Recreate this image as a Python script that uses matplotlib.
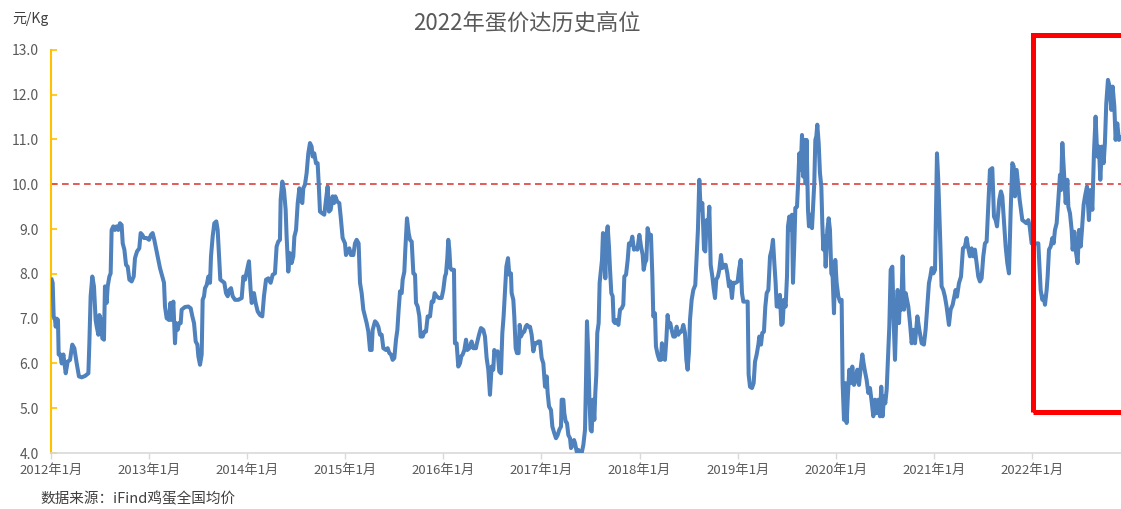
import matplotlib
matplotlib.use("Agg")
import matplotlib.pyplot as plt
from matplotlib.patches import Rectangle
import numpy as np

plt.rcParams['font.family'] = ['Noto Sans CJK SC', 'DejaVu Sans']

# weekly egg price, x = fractional year
t = [
    2012.007, 2012.017, 2012.027, 2012.041, 2012.048, 2012.058, 2012.071, 2012.078, 2012.095, 2012.109,
    2012.126, 2012.150, 2012.170, 2012.194, 2012.217, 2012.238, 2012.262, 2012.285, 2012.313, 2012.347,
    2012.381, 2012.391, 2012.404, 2012.421, 2012.438, 2012.455, 2012.466, 2012.483, 2012.493, 2012.510,
    2012.523, 2012.540, 2012.550, 2012.567, 2012.578, 2012.595, 2012.608, 2012.618, 2012.635, 2012.652,
    2012.669, 2012.686, 2012.703, 2012.720, 2012.731, 2012.748, 2012.765, 2012.782, 2012.799, 2012.822,
    2012.843, 2012.856, 2012.877, 2012.900, 2012.914, 2012.931, 2012.948, 2012.975, 2012.999,
    2013.019, 2013.036, 2013.053, 2013.077, 2013.094, 2013.111, 2013.135, 2013.152, 2013.162, 2013.179,
    2013.203, 2013.217, 2013.230, 2013.247, 2013.264, 2013.274, 2013.291, 2013.305, 2013.322, 2013.332,
    2013.366, 2013.400, 2013.424, 2013.441, 2013.458, 2013.475, 2013.492, 2013.502, 2013.519, 2013.536,
    2013.546, 2013.560, 2013.570, 2013.587, 2013.604, 2013.621, 2013.631, 2013.648, 2013.665, 2013.685,
    2013.699, 2013.713, 2013.726, 2013.750, 2013.767, 2013.784, 2013.801, 2013.818, 2013.835, 2013.852,
    2013.876, 2013.910, 2013.944, 2013.961, 2013.978, 2013.995,
    2014.018, 2014.035, 2014.046, 2014.069, 2014.086, 2014.107, 2014.131, 2014.154, 2014.171, 2014.192,
    2014.216, 2014.239, 2014.260, 2014.283, 2014.300, 2014.317, 2014.334, 2014.341, 2014.358, 2014.375,
    2014.392, 2014.402, 2014.419, 2014.436, 2014.453, 2014.470, 2014.481, 2014.498, 2014.515, 2014.532,
    2014.545, 2014.562, 2014.572, 2014.589, 2014.606, 2014.623, 2014.640, 2014.657, 2014.667, 2014.684,
    2014.701, 2014.718, 2014.729, 2014.742, 2014.766, 2014.786, 2014.803, 2014.820, 2014.834, 2014.851,
    2014.871, 2014.885, 2014.898, 2014.919, 2014.939, 2014.953, 2014.973, 2014.997,
    2015.007, 2015.024, 2015.041, 2015.058, 2015.082, 2015.099, 2015.116, 2015.136, 2015.150, 2015.167,
    2015.184, 2015.201, 2015.218, 2015.235, 2015.252, 2015.269, 2015.279, 2015.303, 2015.320, 2015.337,
    2015.354, 2015.371, 2015.388, 2015.415, 2015.432, 2015.449, 2015.466, 2015.483, 2015.500, 2015.517,
    2015.531, 2015.544, 2015.558, 2015.575, 2015.585, 2015.602, 2015.612, 2015.629, 2015.646, 2015.660,
    2015.677, 2015.694, 2015.711, 2015.721, 2015.738, 2015.755, 2015.768, 2015.789, 2015.806, 2015.823,
    2015.840, 2015.864, 2015.881, 2015.898, 2015.911, 2015.931, 2015.955, 2015.982, 2015.999,
    2016.016, 2016.027, 2016.040, 2016.050, 2016.061, 2016.071, 2016.084, 2016.108, 2016.118, 2016.135,
    2016.152, 2016.169, 2016.183, 2016.197, 2016.214, 2016.231, 2016.244, 2016.265, 2016.288, 2016.305,
    2016.332, 2016.339, 2016.363, 2016.383, 2016.407, 2016.424, 2016.441, 2016.458, 2016.475, 2016.492,
    2016.509, 2016.519, 2016.536, 2016.553, 2016.570, 2016.587, 2016.601, 2016.614, 2016.628, 2016.642,
    2016.659, 2016.672, 2016.689, 2016.696, 2016.713, 2016.723, 2016.737, 2016.750, 2016.767, 2016.778,
    2016.791, 2016.808, 2016.825, 2016.839, 2016.852, 2016.866, 2016.883, 2016.900, 2016.917, 2016.934,
    2016.951, 2016.968, 2016.985,
    2017.002, 2017.019, 2017.036, 2017.053, 2017.063, 2017.077, 2017.097, 2017.111, 2017.131, 2017.148,
    2017.165, 2017.182, 2017.199, 2017.206, 2017.223, 2017.233, 2017.247, 2017.260, 2017.274, 2017.291,
    2017.301, 2017.318, 2017.332, 2017.342, 2017.359, 2017.376, 2017.393, 2017.410, 2017.427, 2017.444,
    2017.454, 2017.464, 2017.478, 2017.488, 2017.501, 2017.512, 2017.525, 2017.539, 2017.549, 2017.559,
    2017.569, 2017.583, 2017.593, 2017.607, 2017.617, 2017.627, 2017.641, 2017.651, 2017.661, 2017.675,
    2017.688, 2017.699, 2017.712, 2017.726, 2017.736, 2017.750, 2017.767, 2017.784, 2017.801, 2017.818,
    2017.834, 2017.845, 2017.862, 2017.879, 2017.892, 2017.909, 2017.926, 2017.943, 2017.960, 2017.977,
    2017.998,
    2018.015, 2018.032, 2018.042, 2018.055, 2018.069, 2018.082, 2018.096, 2018.116, 2018.130, 2018.140,
    2018.157, 2018.167, 2018.184, 2018.201, 2018.218, 2018.228, 2018.242, 2018.259, 2018.273, 2018.286,
    2018.300, 2018.313, 2018.327, 2018.344, 2018.361, 2018.378, 2018.395, 2018.412, 2018.429, 2018.446,
    2018.463, 2018.477, 2018.490, 2018.504, 2018.514, 2018.531, 2018.548, 2018.568, 2018.582, 2018.595,
    2018.609, 2018.623, 2018.640, 2018.657, 2018.670, 2018.684, 2018.697, 2018.711, 2018.725, 2018.742,
    2018.755, 2018.769, 2018.782, 2018.799, 2018.813, 2018.830, 2018.844, 2018.861, 2018.878, 2018.895,
    2018.912, 2018.925, 2018.942, 2018.956, 2018.980,
    2019.000, 2019.014, 2019.031, 2019.044, 2019.058, 2019.085, 2019.102, 2019.112, 2019.126, 2019.146,
    2019.163, 2019.177, 2019.194, 2019.211, 2019.221, 2019.238, 2019.251, 2019.268, 2019.282, 2019.296,
    2019.313, 2019.330, 2019.347, 2019.360, 2019.374, 2019.387, 2019.398, 2019.414, 2019.431, 2019.445,
    2019.459, 2019.472, 2019.489, 2019.503, 2019.513, 2019.527, 2019.540, 2019.554, 2019.564, 2019.578,
    2019.588, 2019.605, 2019.618, 2019.629, 2019.642, 2019.656, 2019.669, 2019.679, 2019.693, 2019.703,
    2019.717, 2019.727, 2019.744, 2019.758, 2019.771, 2019.781, 2019.792, 2019.802, 2019.812, 2019.826,
    2019.839, 2019.853, 2019.863, 2019.873, 2019.887, 2019.897, 2019.914, 2019.928, 2019.941, 2019.955,
    2019.968, 2019.982, 2019.995,
    2020.009, 2020.026, 2020.043, 2020.060, 2020.070, 2020.084, 2020.097, 2020.111, 2020.125, 2020.138,
    2020.152, 2020.169, 2020.186, 2020.203, 2020.220, 2020.237, 2020.254, 2020.271, 2020.284, 2020.298,
    2020.315, 2020.332, 2020.349, 2020.366, 2020.383, 2020.400, 2020.417, 2020.434, 2020.451, 2020.464,
    2020.478, 2020.492, 2020.505, 2020.519, 2020.532, 2020.546, 2020.560, 2020.577, 2020.590, 2020.604,
    2020.617, 2020.631, 2020.645, 2020.655, 2020.668, 2020.682, 2020.696, 2020.713, 2020.740, 2020.757,
    2020.774, 2020.791, 2020.808, 2020.832, 2020.852, 2020.876, 2020.899, 2020.916, 2020.933, 2020.950,
    2020.964, 2020.978, 2020.995,
    2021.012, 2021.032, 2021.045, 2021.066, 2021.079, 2021.096, 2021.113, 2021.130, 2021.154, 2021.171,
    2021.192, 2021.208, 2021.222, 2021.236, 2021.256, 2021.277, 2021.297, 2021.317, 2021.334, 2021.351,
    2021.368, 2021.385, 2021.402, 2021.419, 2021.436, 2021.453, 2021.470, 2021.487, 2021.504, 2021.521,
    2021.538, 2021.548, 2021.572, 2021.596, 2021.613, 2021.630, 2021.644, 2021.667, 2021.684, 2021.698,
    2021.712, 2021.732, 2021.749, 2021.766, 2021.783, 2021.800, 2021.814, 2021.827, 2021.844, 2021.861,
    2021.875, 2021.888, 2021.902, 2021.922, 2021.943, 2021.963, 2021.977, 2021.997,
    2022.038, 2022.065, 2022.075, 2022.089, 2022.106, 2022.119, 2022.133, 2022.150, 2022.160, 2022.174,
    2022.191, 2022.208, 2022.221, 2022.235, 2022.252, 2022.269, 2022.286, 2022.296, 2022.310, 2022.327,
    2022.344, 2022.361, 2022.371, 2022.388, 2022.405, 2022.415, 2022.432, 2022.445, 2022.466, 2022.480,
    2022.497, 2022.510, 2022.527, 2022.541, 2022.561, 2022.581, 2022.595, 2022.616, 2022.632, 2022.649,
    2022.666, 2022.683, 2022.697, 2022.714, 2022.731, 2022.744, 2022.758, 2022.775, 2022.792, 2022.809,
    2022.823, 2022.840, 2022.853, 2022.870, 2022.887, 2022.904,
]

price = [
    7.87, 7.80, 7.05, 6.97, 6.82, 7.00, 6.97, 6.20, 6.20, 6.00,
    6.20, 5.78, 6.04, 6.08, 6.42, 6.34, 6.00, 5.71, 5.69, 5.72,
    5.78, 6.45, 7.50, 7.94, 7.72, 6.97, 6.82, 6.64, 7.08, 6.97,
    6.56, 6.53, 7.72, 7.35, 7.72, 7.94, 8.01, 8.98, 9.06, 8.98,
    9.06, 8.98, 9.13, 9.09, 8.68, 8.54, 8.20, 8.16, 7.87, 7.83,
    7.94, 8.35, 8.50, 8.57, 8.91, 8.87, 8.80, 8.80, 8.76,
    8.87, 8.91, 8.76, 8.50, 8.31, 8.13, 7.94, 7.80, 7.27, 7.01,
    6.97, 7.35, 6.97, 7.38, 6.45, 6.90, 6.75, 6.90, 6.90, 7.20,
    7.26, 7.27, 7.23, 7.05, 6.90, 6.49, 6.42, 6.16, 5.97, 6.20,
    7.42, 7.50, 7.68, 7.75, 7.94, 7.80, 8.39, 8.83, 9.13, 9.17,
    8.98, 8.39, 7.87, 7.83, 7.80, 7.57, 7.50, 7.64, 7.68, 7.50,
    7.42, 7.42, 7.46, 7.94, 7.87, 8.05,
    8.28, 7.64, 7.35, 7.57, 7.35, 7.16, 7.08, 7.05, 7.50, 7.87,
    7.90, 7.80, 7.98, 8.01, 8.61, 8.72, 8.76, 9.65, 10.06, 9.87,
    9.43, 8.83, 8.05, 8.46, 8.24, 8.39, 8.83, 8.98, 9.58, 9.91,
    9.65, 9.58, 9.91, 9.99, 10.25, 10.69, 10.92, 10.84, 10.62, 10.69,
    10.47, 10.47, 10.02, 9.39, 9.35, 9.32, 9.65, 9.95, 9.39, 9.43,
    9.73, 9.58, 9.73, 9.61, 9.58, 9.28, 8.80, 8.68,
    8.42, 8.50, 8.57, 8.42, 8.42, 8.68, 8.76, 8.68, 7.80, 7.57,
    7.20, 7.05, 6.90, 6.71, 6.30, 6.30, 6.75, 6.94, 6.90, 6.82,
    6.64, 6.64, 6.34, 6.30, 6.34, 6.23, 6.20, 6.08, 6.12, 6.53,
    6.75, 7.20, 7.61, 7.57, 7.87, 8.05, 8.54, 9.24, 8.91, 8.76,
    8.72, 8.01, 7.98, 7.35, 7.27, 7.05, 6.60, 6.60, 6.71, 6.71,
    7.05, 7.05, 7.38, 7.38, 7.57, 7.50, 7.46, 7.46, 7.64,
    7.94, 8.01, 8.35, 8.76, 8.54, 8.13, 8.09, 8.09, 6.45, 6.45,
    5.93, 6.00, 6.16, 6.20, 6.30, 6.53, 6.30, 6.34, 6.49, 6.34,
    6.34, 6.42, 6.64, 6.79, 6.75, 6.60, 6.12, 5.86, 5.30, 5.93,
    5.86, 6.30, 6.23, 6.27, 5.82, 5.78, 6.68, 7.05, 7.61, 8.16,
    8.35, 7.98, 8.01, 7.57, 7.42, 7.05, 6.34, 6.23, 6.23, 6.86,
    6.60, 6.68, 6.71, 6.82, 6.86, 6.82, 6.82, 6.64, 6.27, 6.45,
    6.45, 6.49, 6.49,
    6.12, 6.00, 5.48, 5.71, 5.34, 5.04, 4.96, 4.59, 4.44, 4.33,
    4.40, 4.52, 4.59, 5.19, 5.19, 4.89, 4.70, 4.67, 4.40, 4.33,
    4.11, 4.18, 4.29, 4.22, 4.03, 4.07, 3.96, 4.00, 4.18, 4.52,
    5.63, 6.94, 6.16, 5.26, 4.52, 4.48, 5.19, 4.74, 5.34, 5.75,
    6.68, 6.90, 7.80, 8.09, 8.31, 8.91, 8.68, 7.90, 8.83, 9.06,
    8.61, 8.09, 7.57, 7.50, 6.94, 6.90, 6.97, 6.86, 7.20, 7.23,
    7.31, 7.94, 7.98, 8.31, 8.68, 8.65, 8.83, 8.54, 8.57, 8.54,
    8.87,
    8.61, 8.42, 8.09, 8.24, 8.31, 9.02, 8.87, 8.87, 7.98, 7.05,
    7.12, 6.38, 6.20, 6.08, 6.08, 6.45, 6.12, 6.08, 6.53, 7.08,
    6.82, 6.90, 6.75, 6.60, 6.60, 6.82, 6.64, 6.71, 6.71, 6.86,
    6.68, 6.08, 5.86, 6.27, 6.97, 7.42, 7.64, 7.75, 8.39, 8.98,
    10.10, 9.43, 9.58, 8.54, 8.50, 9.20, 8.98, 9.50, 8.20, 7.94,
    7.68, 7.46, 7.87, 7.94, 8.09, 8.42, 8.13, 8.20, 8.20, 8.01,
    7.72, 7.83, 7.46, 7.80, 7.80,
    7.83, 8.09, 8.31, 7.57, 7.38, 7.38, 7.38, 5.75, 5.48, 5.45,
    5.56, 6.04, 6.20, 6.42, 6.60, 6.42, 6.68, 6.71, 7.27, 7.57,
    7.64, 8.39, 8.54, 8.76, 8.24, 7.80, 7.27, 7.27, 7.53, 6.86,
    6.90, 7.42, 7.27, 7.94, 9.06, 9.28, 8.98, 9.32, 7.80, 8.68,
    9.47, 9.50, 10.10, 10.69, 10.32, 11.10, 10.17, 10.99, 10.02, 10.99,
    9.43, 9.06, 9.32, 9.02, 9.58, 10.02, 10.99, 11.07, 11.33, 10.92,
    10.25, 9.95, 9.13, 8.54, 8.83, 8.16, 8.98, 9.24, 8.98, 8.01,
    7.94, 7.12, 8.31,
    7.80, 7.50, 7.38, 7.42, 5.56, 4.74, 5.56, 4.67, 5.34, 5.86,
    5.56, 5.93, 5.52, 5.63, 5.86, 5.52, 5.89, 6.20, 6.00, 5.82,
    5.63, 5.34, 5.45, 5.15, 4.82, 5.19, 4.89, 5.19, 4.82, 5.48,
    4.82, 5.26, 5.11, 5.41, 6.08, 6.82, 8.09, 8.16, 6.97, 6.08,
    7.05, 7.64, 6.90, 7.50, 7.20, 8.39, 7.20, 7.57, 7.27, 6.90,
    6.45, 6.75, 6.45, 7.05, 6.75, 6.45, 6.42, 6.75, 7.27, 7.79,
    7.94, 8.13, 8.01,
    8.09, 10.69, 10.10, 8.68, 7.72, 7.64, 7.49, 7.27, 6.86, 7.20,
    7.31, 7.49, 7.64, 7.49, 7.79, 7.94, 8.57, 8.61, 8.80, 8.57,
    8.39, 8.57, 8.39, 8.54, 8.24, 7.94, 7.83, 7.90, 8.39, 8.68,
    8.72, 9.20, 10.32, 10.36, 9.28, 9.20, 9.06, 9.65, 9.84, 9.73,
    9.28, 8.61, 8.24, 8.01, 9.39, 10.47, 10.40, 9.73, 10.32, 9.95,
    9.65, 9.43, 9.20, 9.17, 9.13, 9.20, 9.06, 8.68,
    8.68, 8.68, 8.24, 7.64, 7.42, 7.49, 7.31, 7.64, 7.94, 8.54,
    8.61, 8.80, 8.68, 8.98, 9.13, 9.65, 10.21, 9.87, 10.92, 10.25,
    9.58, 10.10, 9.50, 9.35, 8.98, 8.54, 8.94, 8.54, 8.24, 8.98,
    8.61, 8.98, 9.54, 9.73, 9.95, 9.20, 9.87, 9.43, 10.69, 11.51,
    10.62, 10.84, 10.10, 10.84, 10.47, 10.92, 11.81, 12.33, 12.18, 11.66,
    12.18, 11.74, 10.99, 11.36, 10.99, 11.03,
]

years = list(range(2012, 2023))
year_labels = [f"{y}年1月" for y in years]
y_ticks = [4, 5, 6, 7, 8, 9, 10, 11, 12, 13]
ref_level = 10.0
highlight_start = 2022.01

fig = plt.figure(figsize=(11.21, 5.09), dpi=100)
ax = fig.add_axes([0.0455, 0.110, 0.9545, 0.792])

ax.plot(t, price, color='#4F81BD', lw=2.9, solid_joinstyle='round', zorder=3)
ax.axhline(ref_level, color='#E0403A', lw=1.2, linestyle=(0, (4, 2.6)), zorder=2)

ax.set_xlim(2012.0, 2022.908)
ax.set_ylim(4.0, 13.0)
ax.set_xticks(years)
ax.set_xticklabels(year_labels)
ax.set_yticks(y_ticks)
ax.set_yticklabels([f"{v:.1f}" for v in y_ticks])

for s in ['top', 'right']:
    ax.spines[s].set_visible(False)
ax.spines['left'].set_color('#FFC000')
ax.spines['left'].set_linewidth(1.5)
ax.spines['bottom'].set_color('#D9D9D9')
ax.spines['bottom'].set_linewidth(1.2)

ax.tick_params(axis='y', direction='in', length=4, width=1.2, color='#FFC000',
               labelcolor='#595959', labelsize=10, pad=9)
ax.tick_params(axis='x', direction='out', length=4, width=1.0, color='#D9D9D9',
               labelcolor='#595959', labelsize=9.5, pad=4)

# highlight box around 2022
ax.add_patch(Rectangle((highlight_start, 4.91), 1.2, 8.42, fill=False,
                       ec='#FF0000', lw=3.6, clip_on=False, zorder=4))

fig.text(0.47, 0.955, "2022年蛋价达历史高位", ha='center', va='center',
         fontsize=16, color='#595959')
fig.text(0.011, 0.962, "元/Kg", ha='left', va='center', fontsize=10, color='#404040')
fig.text(0.036, 0.02, "数据来源：iFind鸡蛋全国均价", ha='left', va='center',
         fontsize=10.5, color='#404040')

fig.savefig("out.png", dpi=100)
